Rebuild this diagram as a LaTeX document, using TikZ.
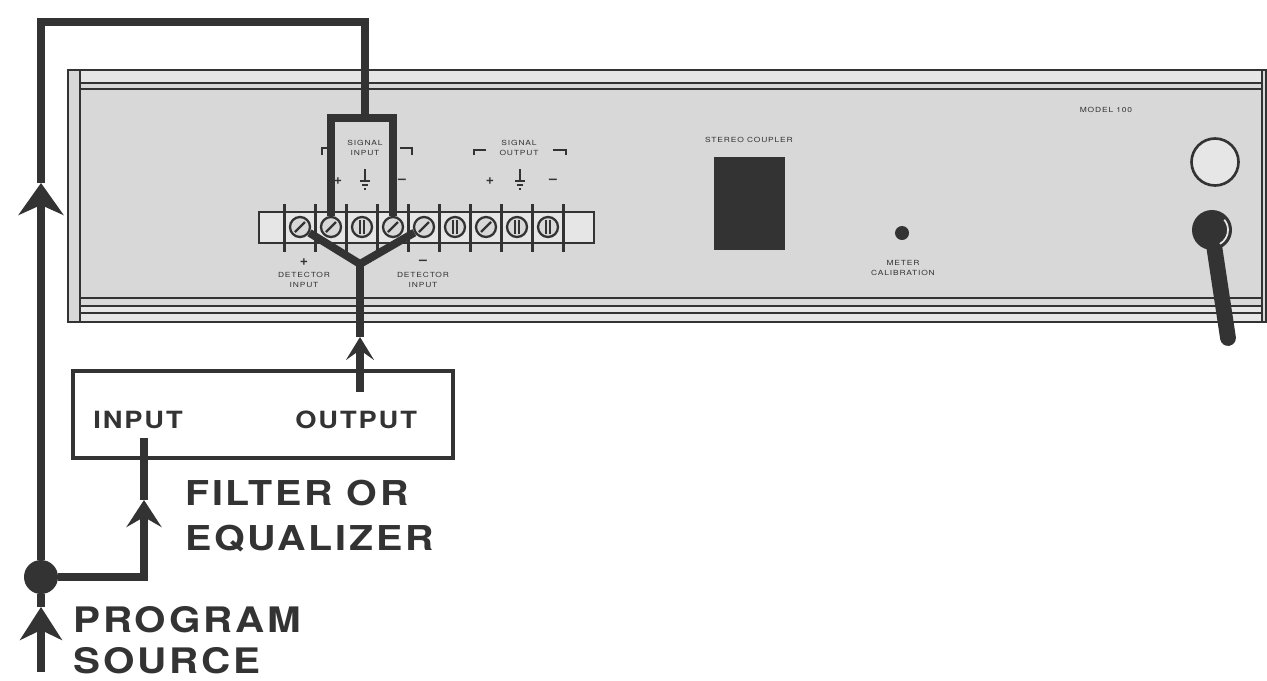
\documentclass[tikz,border=0pt]{standalone}
\usepackage{fontspec}
\setmainfont{TeX Gyre Heros}
\newfontfamily\labelfont[FakeStretch=1.15,LetterSpace=8]{TeX Gyre Heros}
\newfontfamily\panelfont[FakeStretch=1.2,LetterSpace=12]{TeX Gyre Heros}
\usetikzlibrary{arrows.meta}
\definecolor{ink}{HTML}{333333}
\definecolor{panelgray}{HTML}{D8D8D8}
\definecolor{rimgray}{HTML}{E6E6E6}

\begin{document}
\begin{tikzpicture}[x=0.02cm,y=-0.02cm,
    wire/.style={draw=ink,line width=4.5pt},
    tip/.style 2 args={-{Stealth[length=#1,width=#2,inset=0.2cm]}},
    rail/.style={draw=ink,line width=1pt},
    sign/.style={font=\bfseries\fontsize{8}{8}\selectfont}]
\useasboundingbox (0,0) rectangle (1267,680);

\begin{scope}[every path/.style={rail}]
    \fill[panelgray] (68,70) rectangle (1266,322);
    \fill[rimgray] (80,70) rectangle (1262,82);
    \fill[rimgray] (80,306) rectangle (1262,322);
    \draw (68,70) rectangle (1266,322);
    \draw (80,70) -- (80,322);
    \draw (1262,70) -- (1262,322);
    \draw[line width=1.6pt] (80,83) -- (1262,83);
    \draw (80,89) -- (1262,89);
    \draw (80,298) -- (1262,298);
    \draw[line width=1.6pt] (80,306) -- (1262,306);
    \draw (80,313) -- (1262,313);
\end{scope}

\begin{scope}[every node/.style={font=\panelfont\fontsize{4}{4.5}\selectfont,text=ink,inner sep=0pt}]
    \node (sigin1) at (365,143) {SIGNAL};
    \node (sigin2) at (365,153) {INPUT};
    \node (sigout1) at (519,143) {SIGNAL};
    \node (sigout2) at (519,153) {OUTPUT};
    \node[sign] (plusin) at (338,181) {+};
    \node[sign] (minusin) at (402,181) {\textendash};
    \node[sign] (plusout) at (490,181) {+};
    \node[sign] (minusout) at (553,181) {\textendash};
    \node[sign] (detp) at (304,262) {+};
    \node (detp1) at (304,275) {DETECTOR};
    \node (detp2) at (304,285) {INPUT};
    \node[sign] (detm) at (423,262) {\textendash};
    \node (detm1) at (423,275) {DETECTOR};
    \node (detm2) at (423,285) {INPUT};
    \node (coupler) at (749,140) {STEREO COUPLER};
    \node (meter1) at (903,263) {METER};
    \node (meter2) at (903,273) {CALIBRATION};
    \node (model) at (1106,110) {MODEL 100};
\end{scope}

\begin{scope}[ink,line width=0.8pt]
    \draw (322,155) -- (322,148) -- (334,148);
    \draw (400,148) -- (412,148) -- (412,155);
    \draw (474,155) -- (474,150) -- (486,150);
    \draw (553,150) -- (566,150) -- (566,155);
    \foreach \gx in {365,520} {
        \draw[line width=1.1pt] (\gx,169) -- (\gx,181);
        \draw (\gx-5,181) -- (\gx+5,181);
        \draw (\gx-3,185) -- (\gx+3,185);
        \draw (\gx-1,189) -- (\gx+1,189);
    }
\end{scope}

\fill[ink] (714,157) rectangle (785,250);
\node[circle,fill=ink,minimum size=0.28cm,inner sep=0pt] (meter) at (902,233) {};
\node[circle,draw=ink,line width=1.5pt,fill=rimgray,minimum size=0.94cm] (fuse) at (1215,162) {};
\draw[ink,line width=9pt,line cap=round] (1212,232) -- (1228,338);
\node[circle,fill=ink,minimum size=0.8cm,inner sep=0pt] (power) at (1212,230) {};
\draw[rimgray,line width=1pt] (1212,230) ++(60:16) arc (60:-40:16);

\draw[rail,fill=rimgray] (259,212) rectangle (594,243);
\foreach \k in {0,...,9}
    \draw[ink,line width=1.2pt] (284.5+31*\k,204) -- (284.5+31*\k,252);
\begin{scope}[every node/.style={circle,draw=ink,line width=1.3pt,fill=panelgray,
              minimum size=0.4cm,inner sep=0pt}]
    \foreach \i/\kind in {1/1,2/1,3/0,4/1,5/1,6/0,7/1,8/0,9/0} {
        \pgfmathsetmacro\sx{300+31*(\i-1)}
        \node (s\i) at (\sx,227) {};
        \ifnum\kind=1
            \draw[ink,line width=1.3pt] (\sx-5,232) -- (\sx+5,222);
        \else
            \draw[ink,line width=1.1pt] (\sx-2,220) -- (\sx-2,234) (\sx+2,220) -- (\sx+2,234);
        \fi
    }
\end{scope}

\node[draw=ink,line width=2.8pt,minimum width=7.6cm,minimum height=1.74cm] (filter) at (263,414.5) {};
\begin{scope}[every node/.style={font=\labelfont\bfseries,text=ink,inner sep=0pt,anchor=base west}]
    \node (inlbl) at (93,428) {\fontsize{13.5}{14}\selectfont INPUT};
    \node (outlbl) at (295,428) {\fontsize{13.5}{14}\selectfont OUTPUT};
    \node (flt1) at (185,505) {\fontsize{19.5}{20}\selectfont FILTER OR};
    \node (flt2) at (185,550) {\fontsize{19.5}{20}\selectfont EQUALIZER};
    \node (prg1) at (73,632) {\fontsize{20}{21}\selectfont PROGRAM};
    \node (prg2) at (73,673) {\fontsize{20}{21}\selectfont SOURCE};
\end{scope}

\node[circle,fill=ink,minimum size=0.68cm,inner sep=0pt] (src) at (41,577) {};
\coordinate (srcbot) at (41,672);
\coordinate (srcarr) at (41,607);
\coordinate (leftarr) at (41,183);
\coordinate (lefttop) at (41,22);
\coordinate (toprt) at (365,22);
\coordinate (sigtop) at (365,118);
\coordinate (inarr) at (144,500);
\coordinate (inpin) at (144,438);
\coordinate (outpin) at (360,392);
\coordinate (outarr) at (360,337);
\coordinate (yj) at (360,264);

\begin{scope}[every path/.style={wire}]
    \draw[tip={0.66cm}{0.84cm}] (srcbot) -- (srcarr);
    \draw (srcarr) -- (src);
    \draw[tip={0.64cm}{0.9cm}] (src) -- (leftarr);
    \draw (leftarr) -- (lefttop) -- (toprt) -- (sigtop);
    \draw (s2) |- (sigtop) -| (s4);
    \draw (s1) -- (yj) -- (s5);
    \draw[tip={0.46cm}{0.56cm}] (outpin) -- (outarr);
    \draw (outarr) -- (yj);
    \draw[tip={0.54cm}{0.7cm}] (src) -| (inarr);
    \draw (inarr) -- (inpin);
\end{scope}
\end{tikzpicture}
\end{document}
